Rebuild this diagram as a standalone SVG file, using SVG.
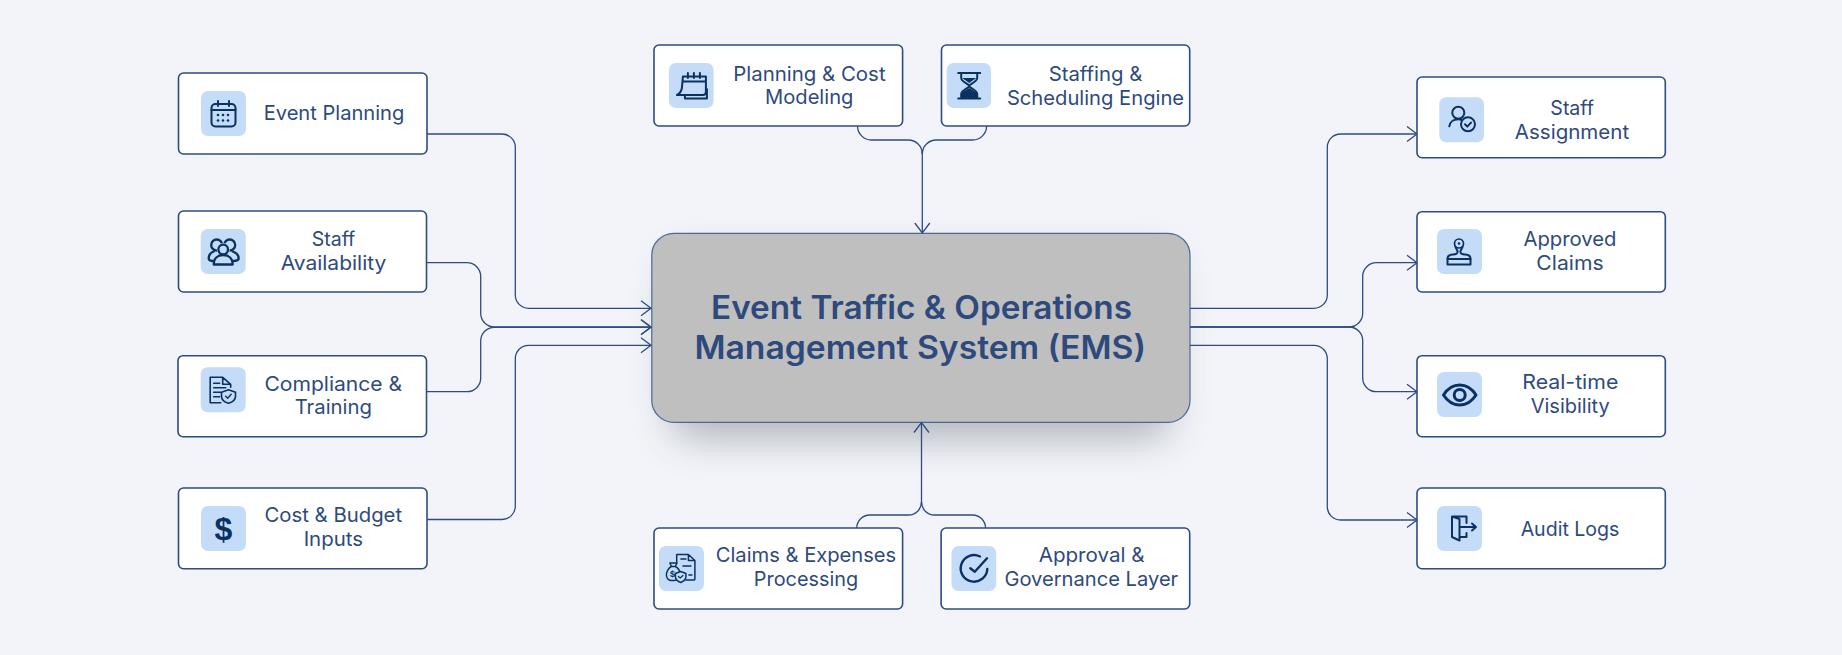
<svg xmlns="http://www.w3.org/2000/svg" width="1842" height="655" viewBox="0 0 1842 655">
<style>
.bg{fill:#F2F4F9}
.box{fill:#fff;stroke:#2E4C80;stroke-width:1.6}
.tile{fill:#C5DCF9}
.t{font-family:"Inter","Noto Sans","Liberation Sans",sans-serif;font-size:20px;fill:#2E4A7D;text-anchor:middle;transform:translateY(.5px)}
.title{font-family:"Inter","Noto Sans","Liberation Sans",sans-serif;font-size:32px;font-weight:600;fill:#2E4A7D;text-anchor:middle;transform:translateY(1px)}
.i{fill:none;stroke:#0A3161;stroke-width:2;stroke-linecap:round;stroke-linejoin:round}
.f{fill:#0A3161}
.c{fill:none;stroke:#2E4C80;stroke-width:1.3;marker-end:url(#arrow)}
.n{fill:none;stroke:#2E4C80;stroke-width:1.3}
</style>
<defs>
<marker id="arrow" markerUnits="userSpaceOnUse" markerWidth="14" markerHeight="20" refX="11" refY="9" orient="auto">
<path d="M1 1.500L11 9L1 16.500" fill="none" stroke="#2E4C80" stroke-width="1.300"/>
</marker>
<filter id="soft" x="-20%" y="-40%" width="140%" height="190%"><feGaussianBlur stdDeviation="20"/></filter>
</defs>
<rect class="bg" width="1842" height="655"/>

<g id="center">
<rect x="672" y="258" width="498" height="180" rx="20" fill="#5F6670" opacity=".45" filter="url(#soft)"/>
<rect x="651.800" y="233.300" width="538.200" height="189" rx="22" fill="#BFBFBF" stroke="#4A6A94" stroke-width="1.200"/>
<text class="title" x="921.500" y="318.300" textLength="421" lengthAdjust="spacingAndGlyphs">Event Traffic &amp; Operations</text>
<text class="title" x="920.200" y="358.300" textLength="451.600" lengthAdjust="spacingAndGlyphs">Management System (EMS)</text>
</g>

<g id="connectors">
<path class="c" d="M427 134H502a13.300 13.300 0 0 1 13.300 13.300V295a13.300 13.300 0 0 0 13.300 13.300H651"/>
<path class="c" d="M427 262.700H467a13.700 13.700 0 0 1 13.700 13.700V313.300a13.700 13.700 0 0 0 13.700 13.700H651"/>
<path class="c" d="M427 391.700H467a13.700 13.700 0 0 0 13.700 -13.700V341a13.700 13.700 0 0 1 13.700 -13.700H651"/>
<path class="c" d="M427 519.500H502a13.300 13.300 0 0 0 13.300 -13.300V358.600a13.300 13.300 0 0 1 13.300 -13.300H651"/>
<path class="c" d="M1190 308.300H1314a13.300 13.300 0 0 0 13.300 -13.300V147.300a13.300 13.300 0 0 1 13.300 -13.300H1417"/>
<path class="c" d="M1190 327H1349a13.700 13.700 0 0 0 13.700 -13.700V276.400a13.700 13.700 0 0 1 13.700 -13.700H1417"/>
<path class="c" d="M1190 327H1349a13.700 13.700 0 0 1 13.700 13.700V378a13.700 13.700 0 0 0 13.700 13.700H1417"/>
<path class="c" d="M1190 345.300H1314a13.300 13.300 0 0 1 13.300 13.300V506.700a13.300 13.300 0 0 0 13.300 13.300H1417"/>
<path class="n" d="M857.500 126a14 14 0 0 0 14 14H908a14 14 0 0 1 14.300 14"/>
<path class="n" d="M986.600 126a14 14 0 0 1 -14 14H936.600a14 14 0 0 0 -14.300 14"/>
<path class="c" d="M922.300 150V233"/>
<path class="n" d="M856.800 528a13 13 0 0 1 13 -13H908.500a13 13 0 0 0 13 -13"/>
<path class="n" d="M985.500 528a13 13 0 0 0 -13 -13H934.500a13 13 0 0 1 -13 -13"/>
<path class="c" d="M921.500 505V422.500"/>
</g>

<g id="event-planning">
<rect class="box" x="178.500" y="73" width="248.500" height="81" rx="5"/>
<rect class="tile" x="201" y="91" width="45" height="45" rx="7"/>
<g transform="translate(201 91)"><rect class="i" x="10.500" y="13" width="24" height="22.500" rx="4"/><path class="i" d="M17 10V15M28 10V15M10.500 19H34.500"/><g class="f"><circle cx="17" cy="24" r="1.300"/><circle cx="22" cy="24" r="1.300"/><circle cx="27" cy="24" r="1.300"/><circle cx="17" cy="29.500" r="1.300"/><circle cx="22" cy="29.500" r="1.300"/><circle cx="27" cy="29.500" r="1.300"/></g></g>
<text class="t" x="334" y="119.300" textLength="140.700" lengthAdjust="spacingAndGlyphs">Event Planning</text>
</g>

<g id="staff-availability">
<rect class="box" x="178.500" y="211" width="248" height="81" rx="5"/>
<rect class="tile" x="200.700" y="229" width="45" height="45" rx="7"/>
<g transform="translate(200.700 229)"><circle class="i" style="stroke-width:2.300" cx="16" cy="16" r="5.500"/><circle class="i" style="stroke-width:2.300" cx="29" cy="16" r="5.500"/><circle class="tile" cx="22.500" cy="20.500" r="6.500"/><circle class="i" style="stroke-width:2.300" cx="22.500" cy="20.500" r="4.800"/><path class="i" style="stroke-width:2.300" d="M13 35.500c0-6 4-9.500 9.500-9.500s9.500 3.500 9.500 9.500z"/><path class="i" style="stroke-width:2.300" d="M13 22.500c-3 1-5 3.500-5 7c0 1.500 2 2.500 5 2.500M32 22.500c3 1 6 3.500 6 7c0 1.500-3 2.500-6 2.500"/></g>
<text class="t" x="333.500" y="245.300" textLength="43.700" lengthAdjust="spacingAndGlyphs">Staff</text>
<text class="t" x="333.500" y="269.300" textLength="105.700" lengthAdjust="spacingAndGlyphs">Availability</text>
</g>

<g id="compliance-training">
<rect class="box" x="178" y="355.700" width="248.500" height="81" rx="5"/>
<rect class="tile" x="200.700" y="367.300" width="45" height="45" rx="7"/>
<g transform="translate(200.700 367.300)"><path class="i" style="stroke-width:1.600" d="M20 35.500H9.500V10H22L30 17V20M22 10V17H30M13 16H19M13 20.500H25M13 25H20M13 29.500H19"/><path class="i" style="stroke-width:1.600" d="M27.800 22.500L34.800 25V29C34.800 32.500 31.500 35 27.800 36C24 35 20.800 32.500 20.800 29V25Z"/><path class="i" style="stroke-width:1.400" d="M25 29L27 31L30.500 27"/></g>
<text class="t" x="333.300" y="390" textLength="137.700" lengthAdjust="spacingAndGlyphs">Compliance &amp;</text>
<text class="t" x="333.300" y="413.300" textLength="77.300" lengthAdjust="spacingAndGlyphs">Training</text>
</g>

<g id="cost-budget">
<rect class="box" x="178.500" y="488" width="248.500" height="80.700" rx="5"/>
<rect class="tile" x="201" y="506" width="45" height="45" rx="7"/>
<text x="223.500" y="539.500" text-anchor="middle" font-family="Liberation Sans, sans-serif" font-size="32" font-weight="700" fill="#0A3161">$</text>
<text class="t" x="333.300" y="521" textLength="137.700" lengthAdjust="spacingAndGlyphs">Cost &amp; Budget</text>
<text class="t" x="333.300" y="545" textLength="59.300" lengthAdjust="spacingAndGlyphs">Inputs</text>
</g>

<g id="planning-cost">
<rect class="box" x="654" y="45" width="248.600" height="81" rx="5"/>
<rect class="tile" x="668.900" y="63" width="44.700" height="45" rx="7"/>
<g transform="translate(668.900 63)"><path class="i" d="M14 13.500H37V29C37 31 36 32 34 32H8C11 30.500 12.500 28 13 25ZM13.500 18.500H37M19 10V15M25 10V15M31 10V15M16 32V35.500H38V26"/></g>
<text class="t" x="809.400" y="80" textLength="152.400" lengthAdjust="spacingAndGlyphs">Planning &amp; Cost</text>
<text class="t" x="809.200" y="103.300" textLength="88.400" lengthAdjust="spacingAndGlyphs">Modeling</text>
</g>

<g id="staffing-scheduling">
<rect class="box" x="941.500" y="45" width="248.200" height="81" rx="5"/>
<rect class="tile" x="946.700" y="63" width="44.300" height="45" rx="7"/>
<g transform="translate(946.700 63)"><path class="i" d="M11.500 10H33.500M11.500 35.500H33.500M14.500 10V15C14.500 19 22.500 21 22.500 23C22.500 25 14.500 27 14.500 31V35.500M30.500 10V15C30.500 19 22.500 21 22.500 23C22.500 25 30.500 27 30.500 31V35.500"/><path class="f" d="M15.500 15H29.500L22.500 20ZM14.500 35V31.500C14.500 28.500 20 27 22.500 25C25 27 30.500 28.500 30.500 31.500V35Z"/></g>
<text class="t" x="1095.500" y="80.700" textLength="93.600" lengthAdjust="spacingAndGlyphs">Staffing &amp;</text>
<text class="t" x="1095.500" y="104.700" textLength="177.200" lengthAdjust="spacingAndGlyphs">Scheduling Engine</text>
</g>

<g id="claims-expenses">
<rect class="box" x="654" y="528" width="248.600" height="81" rx="5"/>
<rect class="tile" x="658.900" y="546" width="45.100" height="45" rx="7"/>
<g transform="translate(658.900 546)"><path class="i" style="stroke-width:1.500" d="M17.800 17V8.500H29.500L36 14.500V33C36 33.700 35.500 34 35 34H27M29.500 8.500V14.500H36M22 13H27M24 20H32M30 29H33"/><path class="i" style="stroke-width:1.500;fill:#C5DCF9" d="M11 17H18L16.500 20.500C19.500 22 21 25 21 28C21 32 19 34.500 15 34.500H13C9.500 34.500 7.500 32 7.500 29C7.500 26 9.500 22 12.500 20.500ZM12.500 20.500H16.500"/><text x="13.500" y="30.500" text-anchor="middle" font-family="Liberation Sans, sans-serif" font-size="9" font-weight="700" fill="#0A3161">$</text><path class="i" style="stroke-width:1.500;fill:#C5DCF9" d="M21.800 25.500L27 27.500V30.500C27 33.500 24.500 35.500 21.800 36.500C19 35.500 16.500 33.500 16.500 30.500V27.500Z"/><path class="i" style="stroke-width:1.200" d="M19.500 30.500L21.300 32L24 29.500"/></g>
<text class="t" x="806" y="561.700" textLength="180.500" lengthAdjust="spacingAndGlyphs">Claims &amp; Expenses</text>
<text class="t" x="806" y="585.300" textLength="104.300" lengthAdjust="spacingAndGlyphs">Processing</text>
</g>

<g id="approval-governance">
<rect class="box" x="941.100" y="528" width="248.600" height="81" rx="5"/>
<rect class="tile" x="951.500" y="546" width="44.700" height="45" rx="7"/>
<g transform="translate(951.500 546)"><path class="i" style="stroke-width:2.400" d="M28.500 10.500A13.300 13.300 0 1 0 35.800 23"/><path class="i" style="stroke-width:2.400" d="M18.800 22.300L23.300 25.700L35.500 12.300"/></g>
<text class="t" x="1091.600" y="561.700" textLength="105.800" lengthAdjust="spacingAndGlyphs">Approval &amp;</text>
<text class="t" x="1091.300" y="585.300" textLength="173.800" lengthAdjust="spacingAndGlyphs">Governance Layer</text>
</g>

<g id="staff-assignment">
<rect class="box" x="1417" y="77" width="248.300" height="80.700" rx="5"/>
<rect class="tile" x="1439.300" y="97.300" width="44.700" height="45" rx="7"/>
<g transform="translate(1439.300 97.300)"><circle class="i" cx="19" cy="15.500" r="6"/><path class="i" d="M10 29C10.500 25 14 22 19 22C20.500 22 21.500 22.300 22.500 22.700"/><circle class="i" cx="28.700" cy="27" r="7"/><path class="i" d="M25.700 27L28 29.300L31.700 25.300"/></g>
<text class="t" x="1572.200" y="114.300" textLength="43.700" lengthAdjust="spacingAndGlyphs">Staff</text>
<text class="t" x="1572" y="138.300" textLength="114.300" lengthAdjust="spacingAndGlyphs">Assignment</text>
</g>

<g id="approved-claims">
<rect class="box" x="1417" y="211.700" width="248.300" height="80.300" rx="5"/>
<rect class="tile" x="1437" y="229" width="45" height="45" rx="7"/>
<g transform="translate(1437 229)"><circle class="i" cx="22" cy="14.500" r="4.500" style="stroke-width:1.700"/><circle class="f" cx="22" cy="14.500" r="1.300"/><path class="i" d="M18.500 18L20.500 22C21 24.500 19 25.500 16 25.500C12.500 25.500 10.500 27 10.500 30H33.500C33.500 27 31.500 25.500 28 25.500C25 25.500 23 24.500 23.500 22L25.500 18"/><path class="i" d="M10.500 30H33.500V35.500H10.500Z"/></g>
<text class="t" x="1570" y="245.300" textLength="93" lengthAdjust="spacingAndGlyphs">Approved</text>
<text class="t" x="1570" y="269.300" textLength="67.300" lengthAdjust="spacingAndGlyphs">Claims</text>
</g>

<g id="real-time-visibility">
<rect class="box" x="1417" y="355.700" width="248.300" height="81" rx="5"/>
<rect class="tile" x="1437" y="372" width="45" height="45" rx="7"/>
<g transform="translate(1437 372)"><path class="i" style="stroke-width:3" d="M6.500 23C11 16 16.500 13 22.700 13C29 13 34.500 16 39 23C34.500 30 29 33 22.700 33C16.500 33 11 30 6.500 23Z"/><circle class="i" style="stroke-width:3" cx="22.700" cy="23" r="5.500"/></g>
<text class="t" x="1570.300" y="388.700" textLength="96" lengthAdjust="spacingAndGlyphs">Real-time</text>
<text class="t" x="1570.200" y="412" textLength="79" lengthAdjust="spacingAndGlyphs">Visibility</text>
</g>

<g id="audit-logs">
<rect class="box" x="1417" y="488" width="248.300" height="80.700" rx="5"/>
<rect class="tile" x="1437" y="506" width="45" height="45" rx="7"/>
<g transform="translate(1437 506)"><path class="i" d="M15 10.500V31L22.500 34.500V13L15 10.500H29.500V17M29.500 27V31H22.500M24 21H39M35 17.500L39 21L35 24.500"/></g>
<text class="t" x="1570" y="535.300" textLength="98.700" lengthAdjust="spacingAndGlyphs">Audit Logs</text>
</g>
</svg>
